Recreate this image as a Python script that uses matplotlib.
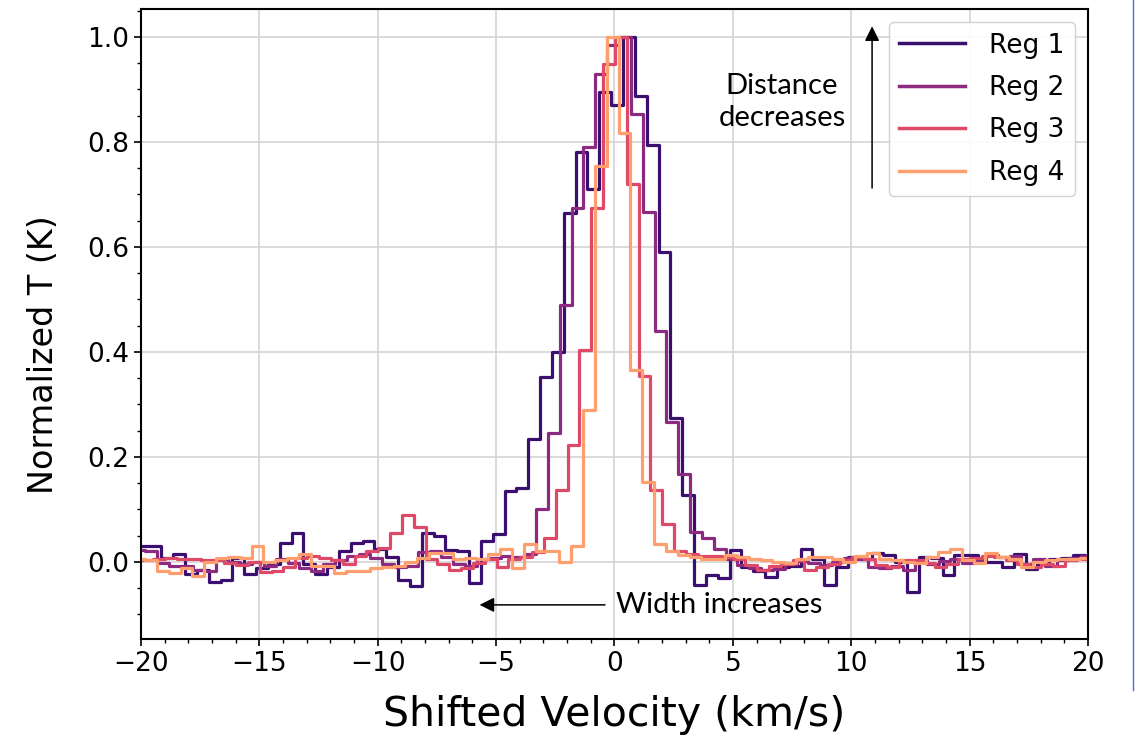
import numpy as np
import matplotlib.pyplot as plt
from matplotlib.lines import Line2D
from matplotlib.ticker import MultipleLocator

# spectra are binned in 0.5 km/s channels, each region starts at its own edge
dv = 0.5
start_v = [-20.14, -20.31, -19.98, -20.33]
labels = ['Reg 1', 'Reg 2', 'Reg 3', 'Reg 4']
colors = ['#3b0f70', '#8c2981', '#de4968', '#fe9f6d']

reg1 = [0.031, 0.031, 0.008, 0.015, -0.024, -0.015, -0.039, -0.034, 0.008, -0.024,
        -0.012, -0.005, 0.036, 0.054, -0.005, -0.024, -0.01, 0.02, 0.036, 0.04,
        0.025, 0.01, -0.034, -0.046, 0.054, 0.05, 0.022, 0.02, -0.041, 0.04,
        0.053, 0.135, 0.141, 0.233, 0.352, 0.40, 0.665, 0.78, 0.71, 0.894,
        0.87, 1.0, 0.888, 0.794, 0.59, 0.274, 0.128, -0.045, -0.025, -0.03,
        0.023, -0.01, -0.018, -0.029, -0.01, -0.008, 0.025, 0.005, -0.044, -0.01,
        0.01, 0.005, 0.016, 0.013, 0.0, -0.057, 0.01, 0.008, -0.025, 0.013,
        0.013, 0.0, 0.0, -0.01, 0.015, -0.013, -0.005, 0.005, 0.008, 0.013,
        0.01]
reg2 = [0.023, 0.02, -0.002, -0.008, -0.008, -0.015, -0.018, 0.005, 0.0, -0.005,
        0.0, -0.008, 0.005, -0.002, -0.012, -0.018, -0.005, 0.003, 0.012, 0.015,
        0.008, -0.005, -0.01, -0.008, 0.018, 0.02, 0.01, -0.004, -0.008, 0.005,
        0.008, 0.012, 0.01, 0.015, 0.10, 0.245, 0.489, 0.673, 0.79, 0.93,
        0.984, 1.0, 0.853, 0.666, 0.44, 0.266, 0.168, 0.056, 0.046, 0.025,
        0.006, -0.006, -0.012, -0.016, -0.014, -0.005, 0.002, -0.003, -0.006, 0.0,
        0.008, 0.006, -0.01, -0.012, -0.008, -0.016, 0.003, -0.004, 0.002, 0.006,
        -0.002, 0.003, 0.013, 0.01, 0.012, -0.005, 0.005, -0.008, 0.004, 0.008,
        0.012]
reg3 = [0.004, 0.006, 0.008, 0.006, 0.005, 0.004, 0.003, -0.002, -0.006, 0.0,
        -0.02, -0.018, -0.01, 0.008, 0.012, 0.008, 0.003, -0.004, 0.012, 0.02,
        0.027, 0.054, 0.089, 0.067, 0.006, -0.005, -0.016, -0.012, -0.003, 0.005,
        -0.01, 0.005, 0.01, 0.018, 0.046, 0.137, 0.222, 0.403, 0.673, 0.949,
        1.0, 0.72, 0.353, 0.137, 0.072, 0.021, 0.014, 0.012, 0.012, 0.01,
        0.005, -0.006, -0.016, -0.008, -0.005, 0.003, -0.016, -0.01, -0.005, 0.003,
        0.01, 0.005, -0.006, -0.01, 0.003, 0.004, -0.003, -0.01, -0.004, 0.005,
        0.008, 0.012, 0.01, 0.004, -0.005, -0.01, -0.004, -0.008, 0.003, 0.006,
        0.006]
reg4 = [0.006, 0.004, -0.018, -0.021, -0.012, -0.027, 0.0, 0.008, 0.01, 0.008,
        0.031, 0.0, 0.003, 0.008, 0.014, -0.008, -0.008, -0.021, -0.018, -0.018,
        -0.012, -0.01, -0.008, 0.0, 0.008, 0.016, 0.016, 0.005, 0.008, 0.006,
        0.015, 0.024, -0.011, 0.034, 0.021, 0.02, -0.001, 0.03, 0.29, 0.753,
        1.0, 0.817, 0.366, 0.152, 0.034, 0.021, 0.013, 0.01, 0.005, 0.005,
        0.013, 0.01, 0.006, 0.003, 0.0, -0.002, 0.006, 0.01, 0.01, 0.006,
        0.0, 0.012, 0.016, 0.006, 0.003, 0.0, -0.002, 0.01, 0.019, 0.025,
        0.003, -0.002, 0.017, 0.01, 0.006, -0.01, 0.0, 0.003, 0.006, 0.006,
        0.008]
spectra = [reg1, reg2, reg3, reg4]

fig = plt.figure(figsize=(11.35, 7.36), dpi=100)
ax = fig.add_axes([0.1242, 0.1318, 0.8344, 0.856])

for vals, v0, lab, col in zip(spectra, start_v, labels, colors):
    vals = np.array(vals)
    edges = v0 + dv * np.arange(len(vals) + 1)
    ax.step(edges, np.append(vals, vals[-1]), where='post', color=col, lw=2.3, label=lab)

ax.set_xlim(-20, 20)
ax.set_ylim(-0.147, 1.053)
ax.xaxis.set_major_locator(MultipleLocator(5))
ax.xaxis.set_minor_locator(MultipleLocator(1))
ax.yaxis.set_major_locator(MultipleLocator(0.2))
ax.yaxis.set_minor_locator(MultipleLocator(0.05))
ax.grid(True, which='major', color='#d4d4d4', lw=1.2)
ax.set_axisbelow(True)
ax.tick_params(which='major', length=5, width=1.2, labelsize=19, direction='out')
ax.tick_params(which='minor', length=3, width=1.0, direction='out')
for s in ax.spines.values():
    s.set_linewidth(1.5)

ax.set_xlabel('Shifted Velocity (km/s)', fontsize=29.5, labelpad=13)
ax.set_ylabel('Normalized T (K)', fontsize=24)
ax.yaxis.set_label_coords(-0.086, 0.451)

leg = ax.legend(loc='upper right', fontsize=19, handlelength=2.5, handletextpad=0.9,
                labelspacing=0.62, framealpha=0.9, edgecolor='#cccccc')
for l in leg.get_lines():
    l.set_linewidth(2.5)

# arrows and notes
arw = dict(arrowstyle='-|>', color='black', lw=1.1, mutation_scale=22, shrinkA=0, shrinkB=0)
ax.annotate('', xy=(10.88, 1.02), xytext=(10.88, 0.712), arrowprops=arw)
ax.text(7.07, 0.876, 'Distance\ndecreases', fontsize=21, family=['Lato', 'DejaVu Sans'],
        ha='center', va='center', linespacing=1.25)
ax.annotate('', xy=(-5.7, -0.082), xytext=(-0.4, -0.082), arrowprops=arw)
ax.text(0.06, -0.082, 'Width increases', fontsize=21, family=['Lato', 'DejaVu Sans'],
        ha='left', va='center')

fig.add_artist(Line2D([0.9985, 0.9985], [0.062, 1.0], transform=fig.transFigure,
                      color='#4a6fd6', lw=1))

fig.savefig('out.png', dpi=100)
